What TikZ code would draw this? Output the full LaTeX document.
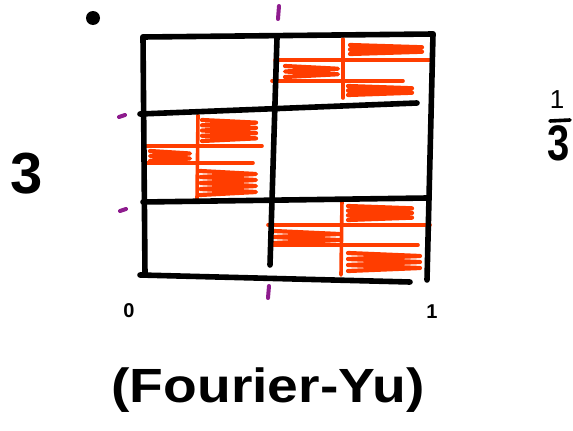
\documentclass[tikz,border=0pt]{standalone}
\usepackage{fontspec}
\setmainfont{Liberation Sans}
\definecolor{orng}{HTML}{FF3D00}
\definecolor{purp}{HTML}{8E1C8E}
\tikzset{
  gridline/.style={line width=5.6pt, line cap=round, black},
  orngline/.style={line width=3.6pt, line cap=round, orng},
  scribline/.style={line width=4.2pt, line cap=round, line join=round, orng},
  tick/.style={line width=4pt, line cap=round, purp},
  hand/.style={inner sep=0pt, font=\bfseries}
}
\newcommand\scrib[5]{%
  \draw[scribline] (#1,#2) \foreach \i in {1,...,#5} { -- (#3,{#2+(\i-0.5)*(#4-#2)/#5}) -- (#1,{#2+\i*(#4-#2)/#5}) };}
\begin{document}
\begin{tikzpicture}[x=1pt,y=-1pt]
\useasboundingbox (0,0) rectangle (573,431);
% orange shading, top-right cell
\draw[orngline] (343,39) -- (343,98);
\draw[orngline] (275,60) -- (432,60);
\draw[orngline] (272,81) -- (403,81);
\scrib{350}{45}{422}{54}{2}
\scrib{285}{66}{338}{77}{2}
\scrib{348}{86}{412}{95}{2}
% orange shading, middle-left cell
\draw[orngline] (198,115) -- (197,200);
\draw[orngline] (145,146) -- (262,146);
\draw[orngline] (147,163) -- (253,163);
\scrib{202}{120}{256}{141}{4}
\scrib{150}{151}{190}{161}{2}
\scrib{200}{171}{256}{195}{4}
% orange shading, bottom-right cell
\draw[orngline] (342,200) -- (341,275);
\draw[orngline] (268,225) -- (430,225);
\draw[orngline] (273,245) -- (418,245);
\scrib{348}{206}{412}{220}{3}
\scrib{274}{231}{339}{243}{2}
\scrib{348}{253}{420}{271}{3}
% grid
\draw[gridline] (143,37) -- (433,34);
\draw[gridline] (143,37) -- (145,275);
\draw[gridline] (433,34) -- (427,280);
\draw[gridline] (140,275) -- (410,282);
\draw[gridline] (277,38) -- (270,265);
\draw[gridline] (140,114) -- (417,103);
\draw[gridline] (143,202) -- (427,198);
% purple ticks
\draw[tick] (279,6) -- (278,19);
\draw[tick] (119,117) -- (125,115);
\draw[tick] (120,211) -- (126,209);
\draw[tick] (269,286) -- (268,298);
% dot
\fill (93,18) circle (7pt);
% labels
\node[hand, font=\fontsize{58}{58}\selectfont\bfseries] (three) at (27,174) {3};
\node[hand, font=\fontsize{26}{26}\selectfont] (num) at (557,100) {1};
\draw[line width=3.6pt, line cap=round] (550,121) -- (570,120);
\node[hand, font=\fontsize{50}{50}\selectfont\bfseries, xscale=0.8] (den) at (559,143) {3};
\node[hand, font=\fontsize{20}{20}\selectfont\bfseries] (zero) at (129,311) {0};
\node[hand, font=\fontsize{20}{20}\selectfont\bfseries] (one) at (432,312) {1};
\node[hand, font=\fontsize{48}{48}\selectfont\bfseries, xscale=1.15] (cite) at (268,390) {(Fourier-Yu)};
\end{tikzpicture}
\end{document}
